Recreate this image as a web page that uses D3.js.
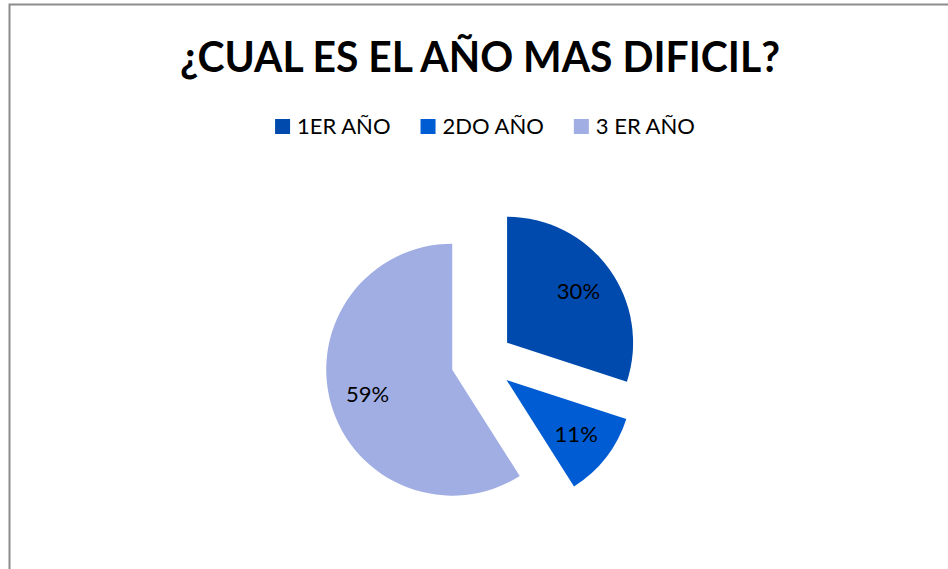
<!DOCTYPE html>
<html>
<head>
<meta charset="utf-8">
<script src="https://cdn.jsdelivr.net/npm/d3@7"></script>
<style>
  html, body { margin: 0; padding: 0; background: #fff; }
  svg { display: block; font-family: Lato, "Open Sans", sans-serif; }
</style>
</head>
<body>
<svg width="948" height="569"></svg>
<script>
// data
const categories = ['1ER AÑO', '2DO AÑO', '3 ER AÑO'];
const percents = [30, 11, 59];
const colors = ['#004aad', '#005cd2', '#a1aee3'];
const title = '¿CUAL ES EL AÑO MAS DIFICIL?';

const svg = d3.select('svg');

// chart frame (runs past the right and bottom edges)
svg.append('rect')
    .attr('x', 9.5)
    .attr('y', 4.5)
    .attr('width', 1000)
    .attr('height', 600)
    .attr('fill', 'white')
    .attr('stroke', '#8c8c8c')
    .attr('stroke-width', 2);

//============ TITLE =========================
const titleText = svg.append('text')
    .attr('x', 480)
    .attr('y', 72)
    .attr('text-anchor', 'middle')
    .attr('font-weight', 'bold')
    .attr('font-size', 42)
    .attr('fill', 'black')
    .text(title);
// squeeze the title to the width it takes in the original
const tw = titleText.node().getComputedTextLength();
if (tw > 600) titleText.attr('textLength', 600).attr('lengthAdjust', 'spacingAndGlyphs');

//============ LEGEND =========================
const legend = svg.append('g').attr('id', 'legend');
let lx = 0;
categories.forEach((c, i) => {
    const item = legend.append('g').attr('transform', `translate(${lx},0)`);
    item.append('rect')
        .attr('x', 0)
        .attr('y', -15)
        .attr('width', 15)
        .attr('height', 15)
        .attr('fill', colors[i]);
    const t = item.append('text')
        .attr('x', 22)
        .attr('y', 0)
        .attr('font-size', 22)
        .attr('fill', 'black')
        .text(c);
    lx += 22 + t.node().getComputedTextLength() + 30;
});
const lw = lx - 30;
legend.attr('transform', `translate(${485 - lw / 2},134)`);

//============ PIE =========================
const cx = 482, cy = 361, radius = 126, explode = 31;

const pie = d3.pie().sort(null).value(d => d);
const arc = d3.arc().innerRadius(0).outerRadius(radius);
const labelArc = d3.arc().innerRadius(radius * 0.7).outerRadius(radius * 0.7);

const slices = svg.append('g')
    .attr('id', 'pie')
    .attr('transform', `translate(${cx},${cy})`)
    .selectAll('g')
    .data(pie(percents))
    .join('g')
    .attr('transform', d => {
        const a = (d.startAngle + d.endAngle) / 2;
        return `translate(${Math.sin(a) * explode},${-Math.cos(a) * explode})`;
    });

slices.append('path')
    .attr('d', arc)
    .attr('fill', (d, i) => colors[i]);

slices.append('text')
    .attr('transform', d => `translate(${labelArc.centroid(d)})`)
    .attr('text-anchor', 'middle')
    .attr('dy', '0.35em')
    .attr('font-size', 22)
    .attr('fill', 'black')
    .text(d => d.data + '%');
</script>
</body>
</html>
